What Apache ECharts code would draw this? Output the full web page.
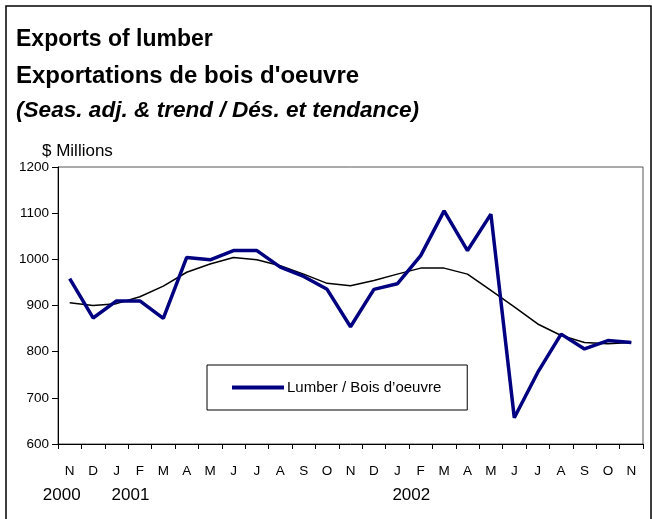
<!DOCTYPE html>
<html>
<head>
<meta charset="utf-8">
<script src="https://cdn.jsdelivr.net/npm/echarts@6/dist/echarts.min.js"></script>
<style>
html,body{margin:0;padding:0;background:#fff;}
#c{width:652px;height:519px;}
</style>
</head>
<body>
<div id="c"></div>
<script>
const months = ['N','D','J','F','M','A','M','J','J','A','S','O','N','D','J','F','M','A','M','J','J','A','S','O','N'];
const yearLabels = ['2000','','2001','','','','','','','','','','','','2002','','','','','','','','','',''];
const lumber = [958,873,910,910,872,1004,999,1019,1019,983,963,935,854,935,947,1008,1105,1019,1098,657,755,838,806,824,820];
const trend = [906,900,904,919,942,972,990,1004,999,986,968,948,943,954,968,981,981,968,933,897,860,835,820,817,820];
const yTicks = {min:600, max:1200, interval:100};
const FONT = '"Liberation Sans", Arial, sans-serif';

const chart = echarts.init(document.getElementById('c'), null, {renderer:'canvas'});
chart.setOption({
  animation:false,
  backgroundColor:'#fff',
  textStyle:{fontFamily:FONT, color:'#000'},
  graphic:[{type:'rect', shape:{x:6, y:6, width:645, height:530}, style:{fill:'none', stroke:'#000', lineWidth:1.5}, silent:true, z:-1}],
  title:[
    {text:'Exports of lumber', left:11, top:23, textStyle:{fontFamily:FONT, fontSize:23, fontWeight:'bold', color:'#000'}},
    {text:"Exportations de bois d'oeuvre", left:11, top:59, textStyle:{fontFamily:FONT, fontSize:24, fontWeight:'bold', color:'#000'}},
    {text:'(Seas. adj. & trend / Dés. et tendance)', left:11, top:94, textStyle:{fontFamily:FONT, fontSize:22.6, fontWeight:'bold', fontStyle:'italic', color:'#000'}},
    {text:'$ Millions', left:37, top:138, textStyle:{fontFamily:FONT, fontSize:17, fontWeight:'normal', color:'#000'}}
  ],
  legend:{
    data:['Lumber / Bois d\u2019oeuvre'],
    left:207, top:365,
    padding:[15,26,15,25],
    borderColor:'#000', borderWidth:1,
    icon:'rect', itemWidth:52, itemHeight:4, itemGap:3,
    textStyle:{fontFamily:FONT, fontSize:15, color:'#000', padding:[0,0,0,-2]}
  },
  grid:{left:58, right:9, top:167, bottom:75, show:true, borderColor:'#555', borderWidth:1, containLabel:false},
  xAxis:[
    {type:'category', data:months, boundaryGap:true, position:'bottom',
     axisLine:{lineStyle:{color:'#000', width:1}},
     axisTick:{show:true, interval:0, length:5, lineStyle:{color:'#000'}},
     axisLabel:{interval:0, margin:20, fontFamily:FONT, fontSize:13.5, color:'#000'}},
    {type:'category', data:yearLabels, boundaryGap:true, position:'bottom', offset:26,
     axisLine:{show:false}, axisTick:{show:false}, splitLine:{show:false},
     axisLabel:{interval:0, margin:17, fontFamily:FONT, fontSize:17, color:'#000',
       formatter:function(v){ if(!v) return ''; return v==='2000' ? '{l|'+v+'}' : '{r|'+v+'}'; },
       rich:{l:{fontFamily:FONT, fontSize:17, color:'#000', padding:[0,16,0,0]}, r:{fontFamily:FONT, fontSize:17, color:'#000', padding:[0,0,0,28]}}}}
  ],
  yAxis:{type:'value', min:yTicks.min, max:yTicks.max, interval:yTicks.interval,
    axisLine:{show:true, lineStyle:{color:'#000', width:1}},
    axisTick:{show:true, length:6, lineStyle:{color:'#000'}},
    splitLine:{show:false},
    axisLabel:{margin:9, fontFamily:FONT, fontSize:13.5, color:'#000', formatter:function(v){return String(v);}}},
  series:[
    {name:'Lumber / Bois d\u2019oeuvre', type:'line', data:lumber, symbol:'none', itemStyle:{color:'#000080'}, lineStyle:{color:'#000080', width:3.5}, z:3},
    {name:'Trend / Tendance', type:'line', data:trend, symbol:'none', itemStyle:{color:'#000'}, lineStyle:{color:'#000', width:1.5}, z:2}
  ]
});
</script>
</body>
</html>
